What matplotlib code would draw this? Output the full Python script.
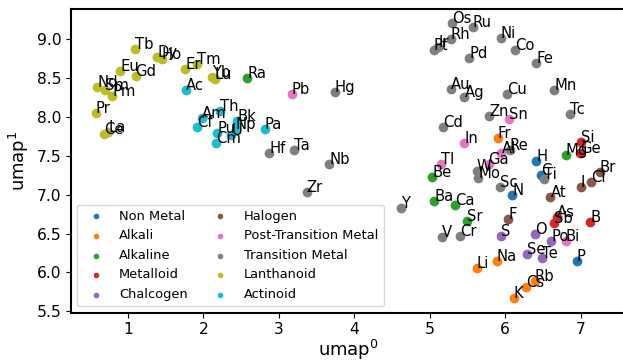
import numpy as np
import matplotlib.pyplot as plt

# element groups, in legend order
groups = ['Non Metal', 'Alkali', 'Alkaline', 'Metalloid', 'Chalcogen',
          'Halogen', 'Post-Transition Metal', 'Transition Metal',
          'Lanthanoid', 'Actinoid']

# element symbols with their group and umap coordinates
symbols = ['H', 'C', 'N', 'P',
           'Li', 'Na', 'K', 'Rb', 'Cs', 'Fr',
           'Be', 'Mg', 'Ca', 'Sr', 'Ba', 'Ra',
           'B', 'Si', 'Ge', 'As', 'Sb',
           'O', 'S', 'Se', 'Te', 'Po',
           'F', 'Cl', 'Br', 'I', 'At',
           'Al', 'Ga', 'In', 'Sn', 'Tl', 'Pb', 'Bi',
           'Sc', 'Ti', 'V', 'Cr', 'Mn', 'Fe', 'Co', 'Ni', 'Cu', 'Zn',
           'Y', 'Zr', 'Nb', 'Mo', 'Tc', 'Ru', 'Rh', 'Pd', 'Ag', 'Cd',
           'Hf', 'Ta', 'W', 'Re', 'Os', 'Ir', 'Pt', 'Au', 'Hg',
           'La', 'Ce', 'Pr', 'Nd', 'Pm', 'Sm', 'Eu', 'Gd', 'Tb', 'Dy',
           'Ho', 'Er', 'Tm', 'Yb', 'Lu',
           'Ac', 'Th', 'Pa', 'U', 'Np', 'Pu', 'Am', 'Cm', 'Bk', 'Cf']

group_of = (['Non Metal'] * 4 + ['Alkali'] * 6 + ['Alkaline'] * 6
            + ['Metalloid'] * 5 + ['Chalcogen'] * 5 + ['Halogen'] * 5
            + ['Post-Transition Metal'] * 7 + ['Transition Metal'] * 29
            + ['Lanthanoid'] * 15 + ['Actinoid'] * 10)

umap0 = [6.41, 6.47, 6.09, 6.95,
         5.62, 5.89, 6.11, 6.39, 6.28, 5.90,
         5.03, 6.80, 5.34, 5.50, 5.06, 2.58,
         7.13, 7.00, 6.99, 6.68, 6.64,
         6.39, 5.94, 6.29, 6.49, 6.61,
         6.04, 7.14, 7.25, 7.00, 6.60,
         5.95, 5.78, 5.46, 6.05, 5.15, 3.17, 6.80,
         5.93, 6.51, 5.16, 5.40, 6.65, 6.41, 6.13, 5.94, 6.03, 5.79,
         4.62, 3.37, 3.67, 5.64, 6.86, 5.57, 5.28, 5.52, 5.46, 5.18,
         2.87, 3.20, 5.62, 6.06, 5.30, 5.11, 5.05, 5.28, 3.74,
         0.74, 0.68, 0.57, 0.59, 0.79, 0.69, 0.90, 1.10, 1.09, 1.39,
         1.45, 1.76, 1.92, 2.11, 2.15,
         1.77, 2.22, 2.81, 2.37, 2.43, 2.18, 1.98, 2.17, 2.45, 1.92]

umap1 = [7.43, 7.25, 7.00, 6.15,
         6.06, 6.15, 5.67, 5.89, 5.81, 7.73,
         7.23, 7.51, 6.87, 6.66, 6.92, 8.50,
         6.65, 7.68, 7.53, 6.71, 6.64,
         6.50, 6.47, 6.24, 6.19, 6.41,
         6.69, 7.16, 7.29, 7.10, 6.97,
         7.53, 7.39, 7.66, 7.97, 7.40, 8.30, 6.40,
         7.10, 7.20, 6.46, 6.47, 8.35, 8.69, 8.86, 9.01, 8.30, 8.01,
         6.83, 7.03, 7.40, 7.21, 8.04, 9.15, 9.00, 8.76, 8.25, 7.87,
         7.53, 7.57, 7.31, 7.58, 9.21, 8.90, 8.86, 8.36, 8.32,
         7.80, 7.78, 8.05, 8.38, 8.27, 8.35, 8.59, 8.52, 8.87, 8.77,
         8.74, 8.62, 8.68, 8.51, 8.49,
         8.35, 8.08, 7.84, 7.77, 7.85, 7.79, 7.98, 7.67, 7.95, 7.87]

colors = plt.cm.tab10.colors

fig = plt.figure(figsize=(6.23, 3.62), dpi=100)
ax = fig.add_axes([0.1135, 0.136, 0.89, 0.839])

x = np.array(umap0)
y = np.array(umap1)
g = np.array(group_of)
for i, grp in enumerate(groups):
    m = g == grp
    ax.scatter(x[m], y[m], s=36, color=colors[i], label=grp, zorder=2)

for s, xi, yi in zip(symbols, umap0, umap1):
    ax.text(xi, yi, s, fontsize=10.6, zorder=3)

ax.set_xlim(0.241, 7.59)
ax.set_ylim(5.482, 9.386)
ax.set_xticks([1, 2, 3, 4, 5, 6, 7])
ax.set_yticks([5.5, 6.0, 6.5, 7.0, 7.5, 8.0, 8.5, 9.0])
ax.tick_params(labelsize=11.2, pad=3)
for sp in ax.spines.values():
    sp.set_linewidth(1.5)

ax.set_xlabel('umap$^0$', fontsize=13, labelpad=1)
ax.set_ylabel('umap$^1$', fontsize=13)

ax.legend(loc='lower left', ncol=2, fontsize=9.4, markerscale=0.5,
          handletextpad=0.8, columnspacing=1.5)

fig.savefig('out.png', dpi=100)
